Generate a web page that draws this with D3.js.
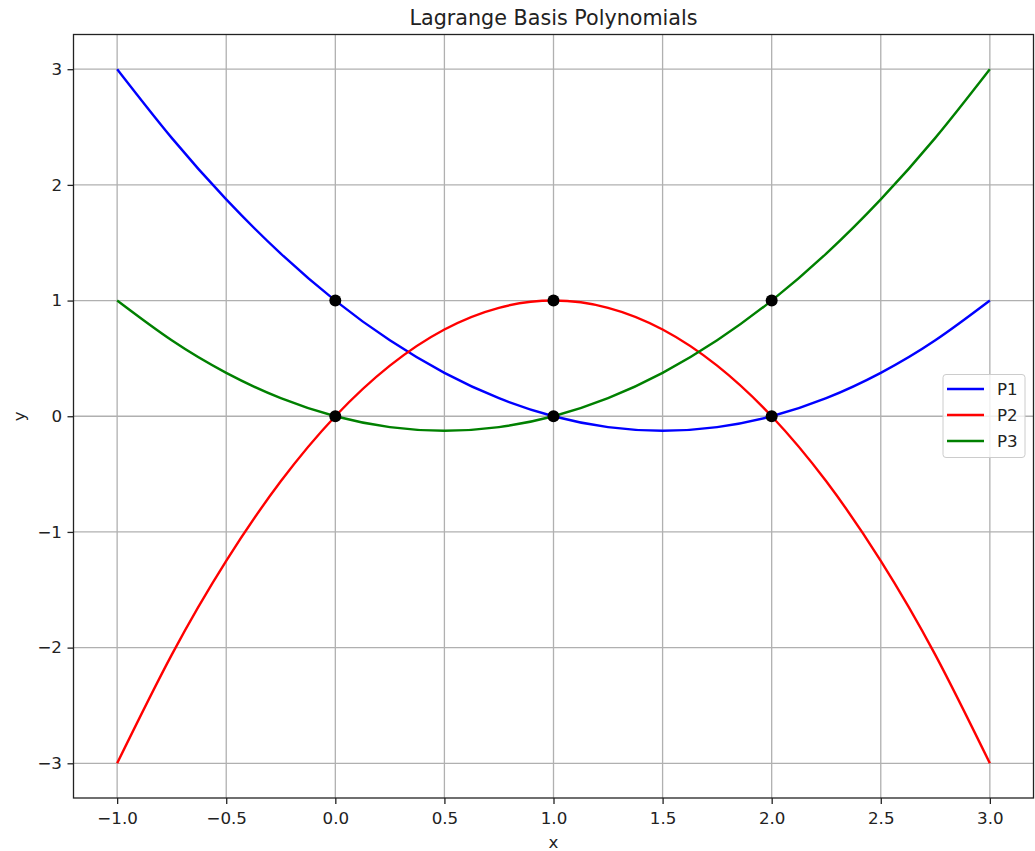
<!DOCTYPE html>
<html><head><meta charset="utf-8">
<script src="https://cdn.jsdelivr.net/npm/d3@7"></script>
<style>body{margin:0;background:#fff;} text{font-family:"DejaVu Sans",sans-serif;}</style>
</head><body><svg id="c" width="1035" height="851"></svg>
<script>
const xs = [-1,-0.75,-0.5,-0.25,0,0.25,0.5,0.75,1,1.25,1.5,1.75,2,2.25,2.5,2.75,3];
const p1 = [3,2.40625,1.875,1.40625,1,0.65625,0.375,0.15625,0,-0.09375,-0.125,-0.09375,0,0.15625,0.375,0.65625,1];
const p2 = [-3,-2.0625,-1.25,-0.5625,0,0.4375,0.75,0.9375,1,0.9375,0.75,0.4375,0,-0.5625,-1.25,-2.0625,-3];
const p3 = [1,0.65625,0.375,0.15625,0,-0.09375,-0.125,-0.09375,0,0.15625,0.375,0.65625,1,1.40625,1.875,2.40625,3];
const seriesNames = ["P1","P2","P3"];
const seriesColors = ["#0000ff","#ff0000","#008000"];
const nodeX = [0,1,2,0,1,2];
const nodeY = [1,1,1,0,0,0];
const xTicks = [-1,-0.5,0,0.5,1,1.5,2,2.5,3];
const yTicks = [-3,-2,-1,0,1,2,3];

const svg = d3.select("#c");
const L=73.5, R=1033.5, T=34.5, B=798;
const x = d3.scaleLinear().domain([-1.2,3.2]).range([L,R]);
const y = d3.scaleLinear().domain([-3.3,3.3]).range([B,T]);
const fmtX = d => d3.format(".1f")(d).replace("-","\u2212");
const fmtY = d => String(d).replace("-","\u2212");

// grid
const g = svg.append("g");
g.selectAll(".gx").data(xTicks).join("line").attr("x1",d=>x(d)).attr("x2",d=>x(d)).attr("y1",T).attr("y2",B).attr("stroke","#b0b0b0").attr("stroke-width",1.3);
g.selectAll(".gy").data(yTicks).join("line").attr("y1",d=>y(d)).attr("y2",d=>y(d)).attr("x1",L).attr("x2",R).attr("stroke","#b0b0b0").attr("stroke-width",1.3);

// lines
const allSeries = [p1,p2,p3];
const line = d3.line().x((d,i)=>x(xs[i])).y(d=>y(d)).curve(d3.curveNatural);
allSeries.forEach((s,k)=>{
  svg.append("path").attr("d",line(s)).attr("fill","none").attr("stroke",seriesColors[k]).attr("stroke-width",2.4);
});
// nodes
svg.selectAll(".nd").data(nodeX).join("circle").attr("cx",d=>x(d)).attr("cy",(d,i)=>y(nodeY[i])).attr("r",6).attr("fill","#000");

// axes
const ax = svg.append("g").attr("transform",`translate(0,${B})`).call(d3.axisBottom(x).tickValues(xTicks).tickFormat(fmtX).tickSize(6).tickPadding(8));
const ay = svg.append("g").attr("transform",`translate(${L},0)`).call(d3.axisLeft(y).tickValues(yTicks).tickFormat(fmtY).tickSize(6).tickPadding(5.5));
[ax,ay].forEach(a=>{a.select(".domain").remove(); a.selectAll("text").style("font-size","16.7px").attr("fill","#222"); a.selectAll("line").attr("stroke","#222").attr("stroke-width",1.3);});
svg.append("rect").attr("x",L).attr("y",T).attr("width",R-L).attr("height",B-T).attr("fill","none").attr("stroke","#222").attr("stroke-width",1.3);

// labels
svg.append("text").attr("x",(L+R)/2).attr("y",25).attr("text-anchor","middle").style("font-size","20.7px").attr("fill","#222").text("Lagrange Basis Polynomials");
svg.append("text").attr("x",(L+R)/2).attr("y",848).attr("text-anchor","middle").style("font-size","16.7px").attr("fill","#222").text("x");
svg.append("text").attr("transform",`translate(25,${(T+B)/2}) rotate(-90)`).attr("text-anchor","middle").style("font-size","16.7px").attr("fill","#222").text("y");

// legend
const lg = svg.append("g");
lg.append("rect").attr("x",943).attr("y",374.5).attr("width",82).attr("height",83).attr("rx",3).attr("fill","#fff").attr("fill-opacity",0.8).attr("stroke","#cccccc");
seriesNames.forEach((n,i)=>{
  const yy = 389 + i*26;
  lg.append("line").attr("x1",947).attr("x2",984).attr("y1",yy).attr("y2",yy).attr("stroke",seriesColors[i]).attr("stroke-width",2.4);
  lg.append("text").attr("x",997).attr("y",yy+6).style("font-size","16.7px").attr("fill","#222").text(n);
});
</script></body></html>
